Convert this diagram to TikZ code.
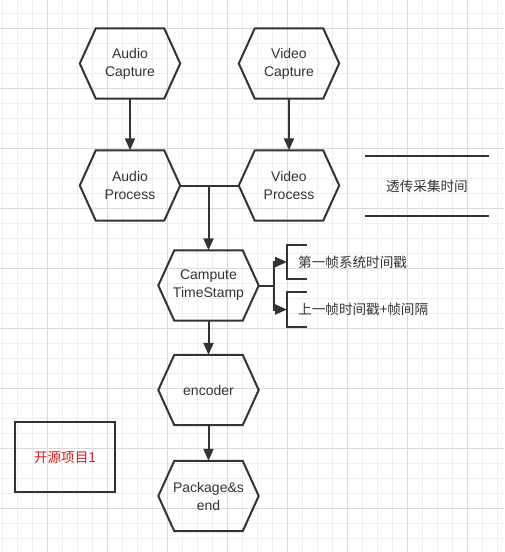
\documentclass[tikz,border=0pt]{standalone}
\usepackage{fontspec}
\setmainfont{Liberation Sans}
\newfontfamily\cjk{Noto Sans CJK SC}
\usetikzlibrary{arrows.meta,calc}
\definecolor{ink}{HTML}{333333}
\definecolor{gridminor}{HTML}{EEEEEE}
\definecolor{gridmajor}{HTML}{DADADA}
\definecolor{redtxt}{RGB}{210,25,25}
\tikzset{
  hexa/.style={minimum width=100pt, minimum height=70pt, inner sep=0pt, align=center,
    font=\fontsize{14pt}{18pt}\selectfont, text=ink},
  hexline/.style={draw=ink, line width=2pt, line join=miter},
  conn/.style={draw=ink, line width=2pt, -{Triangle[length=12pt,width=10pt]}},
  plainline/.style={draw=ink, line width=2pt},
  anno/.style={anchor=west, minimum height=34pt, inner xsep=11pt, inner ysep=0pt,
    font=\cjk\fontsize{13.6pt}{16pt}\selectfont, text=ink},
}
\begin{document}
\begin{tikzpicture}[x=1pt,y=-1pt]
\fill[white] (0,0) rectangle (504,552);
\useasboundingbox (0,0) rectangle (504,552);
% grid
\foreach \i in {0,...,33} {\draw[gridminor, line width=0.8pt] ({2+15*\i},0) -- ({2+15*\i},552);}
\foreach \i in {0,...,36} {\draw[gridminor, line width=0.8pt] (0,{13+15*\i}) -- (504,{13+15*\i});}
\foreach \i in {0,...,8} {\draw[gridmajor, line width=0.8pt] ({47+60*\i},0) -- ({47+60*\i},552);}
\foreach \i in {0,...,9} {\draw[gridmajor, line width=0.8pt] (0,{28+60*\i}) -- (504,{28+60*\i});}

% hexagon nodes
\node[hexa] (ac) at (130,63.5) {Audio\\Capture};
\node[hexa] (vc) at (289,63.5) {Video\\Capture};
\node[hexa] (ap) at (130,185.5) {Audio\\Process};
\node[hexa] (vp) at (289,185.5) {Video\\Process};
\node[hexa] (ts) at (208.5,285.5) {Campute\\TimeStamp};
\node[hexa] (enc) at (208.5,390) {encoder};
\node[hexa] (pk) at (208.5,496) {Package\&s\\end};
\foreach \n in {ac,vc,ap,vp,ts,enc,pk}{
  \draw[hexline] (\n.west) -- ([xshift=16pt]\n.north west) -- ([xshift=-16pt]\n.north east)
    -- (\n.east) -- ([xshift=-16pt]\n.south east) -- ([xshift=16pt]\n.south west) -- cycle;
}

% annotations
\node[anno] (a1) at (287,262) {第一帧系统时间戳};
\node[anno] (a2) at (287,309.5) {上一帧时间戳+帧间隔};
\foreach \n in {a1,a2}{
  \draw[plainline] ([xshift=20pt]\n.north west) -- (\n.north west) -- (\n.south west) -- ([xshift=20pt]\n.south west);
}

% pass-through label
\node[minimum width=124pt, minimum height=60pt, inner sep=0pt, text=ink,
  font=\cjk\fontsize{13.6pt}{16pt}\selectfont] (pass) at (427,186) {透传采集时间};
\draw[plainline] (pass.north west) -- (pass.north east);
\draw[plainline] (pass.south west) -- (pass.south east);

% red box
\node[draw=ink, line width=2pt, minimum width=100pt, minimum height=70pt, text=redtxt,
  font=\cjk\fontsize{13.6pt}{16pt}\selectfont] (proj) at (65,457) {开源项目1};

% connectors
\draw[conn] (ac) -- (ap);
\draw[conn] (vc) -- (vp);
\draw[plainline] (ap.east) -- (vp.west);
\coordinate (j) at (ts.north |- ap.east);
\draw[conn] (j) -- (ts.north);
\coordinate (tsr) at ([xshift=15pt]ts.east);
\draw[plainline] (ts.east) -- (tsr);
\draw[conn] (tsr) |- (a1.west);
\draw[conn] (tsr) |- (a2.west);
\draw[conn] (ts) -- (enc);
\draw[conn] (enc) -- (pk);
\end{tikzpicture}
\end{document}
